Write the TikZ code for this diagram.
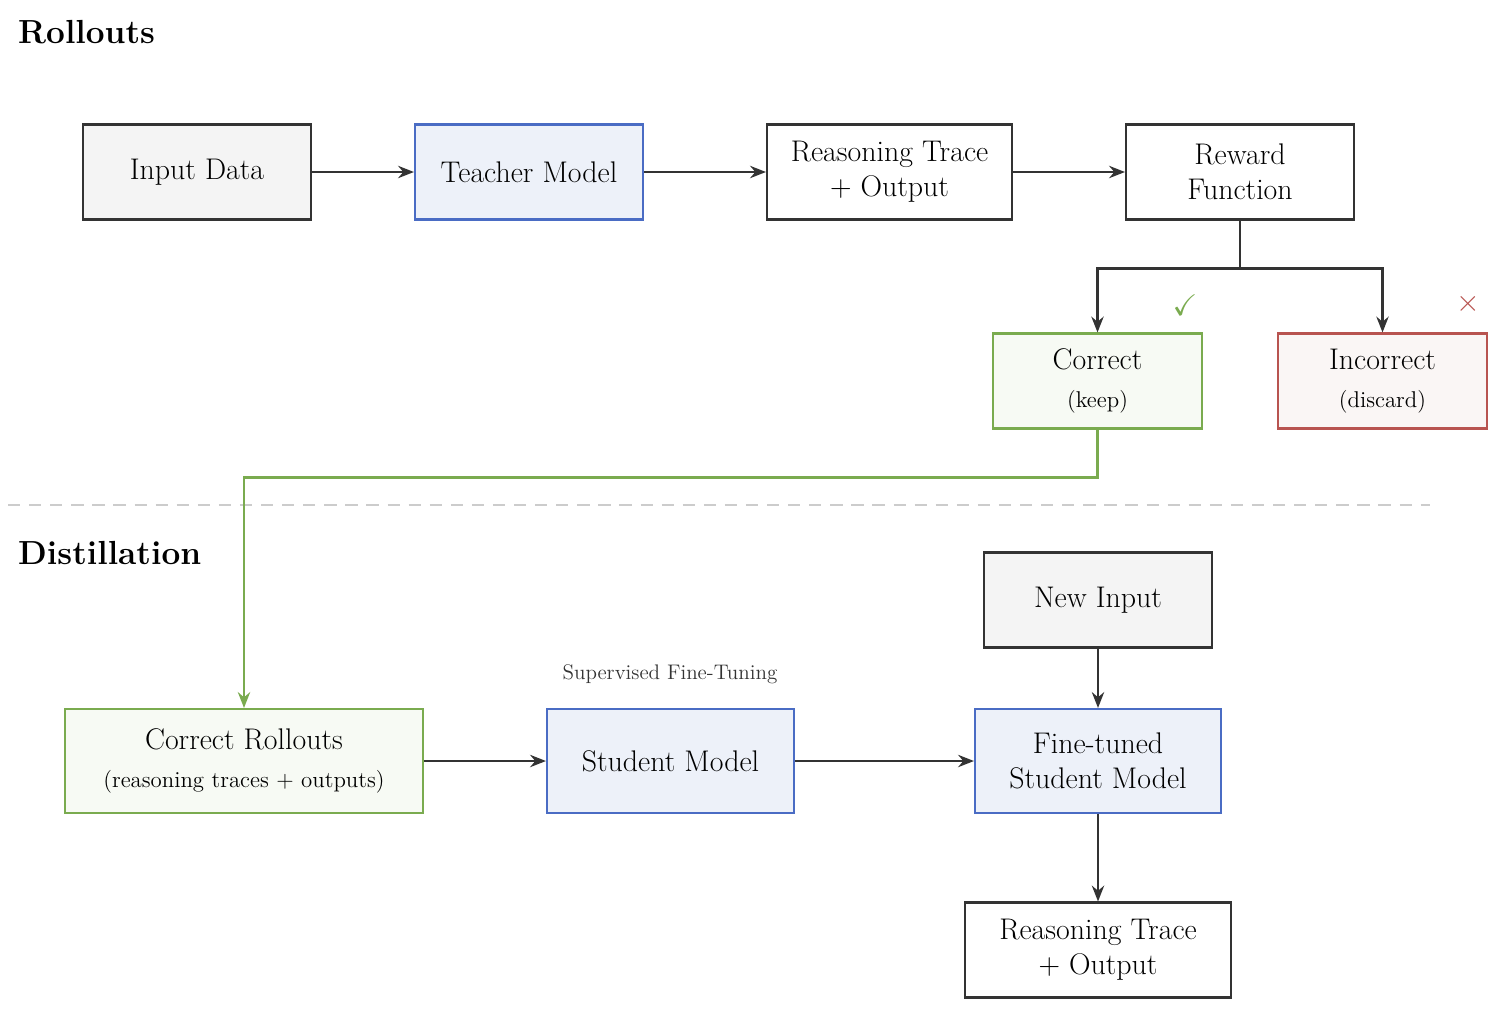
\documentclass[tikz,border=0pt]{standalone}
\usepackage{amssymb}
\usetikzlibrary{arrows.meta}
\definecolor{dk}{HTML}{333333}
\definecolor{bl}{HTML}{4A6CC4}\definecolor{blf}{HTML}{EDF1F9}
\definecolor{gr}{HTML}{7AAB4F}\definecolor{grf}{HTML}{F7FAF4}
\definecolor{rd}{HTML}{B85450}\definecolor{rdf}{HTML}{FAF6F5}
\definecolor{gyf}{HTML}{F4F4F4}
\begin{document}
\begin{tikzpicture}[x=0.02cm,y=-0.02cm,
 box/.style={draw=dk,line width=1.2pt,inner sep=0pt,align=center,font=\fontsize{17}{20}\selectfont},
 gray/.style={box,fill=gyf},
 blue/.style={box,draw=bl,fill=blf},
 green/.style={box,draw=gr,fill=grf},
 red/.style={box,draw=rd,fill=rdf},
 white/.style={box,fill=white},
 arr/.style={draw=dk,line width=1.3pt,-{Stealth[length=9pt,width=7pt]}},
 garr/.style={draw=gr,line width=1.3pt,-{Stealth[length=9pt,width=7pt]}},
 small/.style={font=\fontsize{13}{16}\selectfont},
 title/.style={anchor=west,font=\fontsize{19}{22}\selectfont\bfseries}]
\useasboundingbox (0,0) rectangle (1500,1022);
\node[title] (t1) at (12,32) {Rollouts};
\node[title] (t2) at (12,553) {Distillation};
\node[gray,minimum width=228*0.02cm,minimum height=95*0.02cm] (in) at (197,172) {Input Data};
\node[blue,minimum width=228*0.02cm,minimum height=95*0.02cm] (tm) at (529,172) {Teacher Model};
\node[white,minimum width=245*0.02cm,minimum height=95*0.02cm] (rt) at (889.5,172) {Reasoning Trace\\+ Output};
\node[white,minimum width=228*0.02cm,minimum height=95*0.02cm] (rf) at (1240,172) {Reward\\Function};
\node[green,minimum width=209*0.02cm,minimum height=95*0.02cm] (co) at (1097.5,381) {Correct\\[2pt]{\fontsize{13}{16}\selectfont (keep)}};
\node[red,minimum width=209*0.02cm,minimum height=95*0.02cm] (ic) at (1382.5,381) {Incorrect\\[2pt]{\fontsize{13}{16}\selectfont (discard)}};
\node[text=gr,font=\fontsize{17}{20}\selectfont] (ck) at (1185,305) {$\checkmark$};
\node[text=rd,font=\fontsize{17}{20}\selectfont] (cx) at (1468,304) {$\times$};
\draw[dk!25,line width=1.2pt,dash pattern=on 7pt off 5pt] (8,505) coordinate (d1) -- (1430,505) coordinate (d2);
\node[gray,minimum width=228*0.02cm,minimum height=95*0.02cm] (ni) at (1098,600) {New Input};
\node[green,minimum width=358*0.02cm,minimum height=104*0.02cm] (cr) at (244,761) {Correct Rollouts\\[2pt]{\fontsize{13}{16}\selectfont (reasoning traces + outputs)}};
\node[blue,minimum width=247*0.02cm,minimum height=104*0.02cm] (sm) at (670.5,761) {Student Model};
\node[blue,minimum width=246*0.02cm,minimum height=104*0.02cm] (ft) at (1098,761) {Fine-tuned\\Student Model};
\node[white,minimum width=266*0.02cm,minimum height=95*0.02cm] (ro) at (1098,950) {Reasoning Trace\\+ Output};
\node[text=dk,font=\fontsize{12}{14}\selectfont] (sft) at (670,674) {Supervised Fine-Tuning};
\draw[arr] (in) -- (tm);
\draw[arr] (tm) -- (rt);
\draw[arr] (rt) -- (rf);
\draw[arr] (rf.south) -- ++(0,48) -| (co.north);
\draw[arr] (rf.south) -- ++(0,48) -| (ic.north);
\draw[garr] (co.south) -- ++(0,48) -| (cr.north);
\draw[arr] (cr) -- (sm);
\draw[arr] (sm) -- (ft);
\draw[arr] (ni) -- (ft);
\draw[arr] (ft) -- (ro);
\end{tikzpicture}
\end{document}
